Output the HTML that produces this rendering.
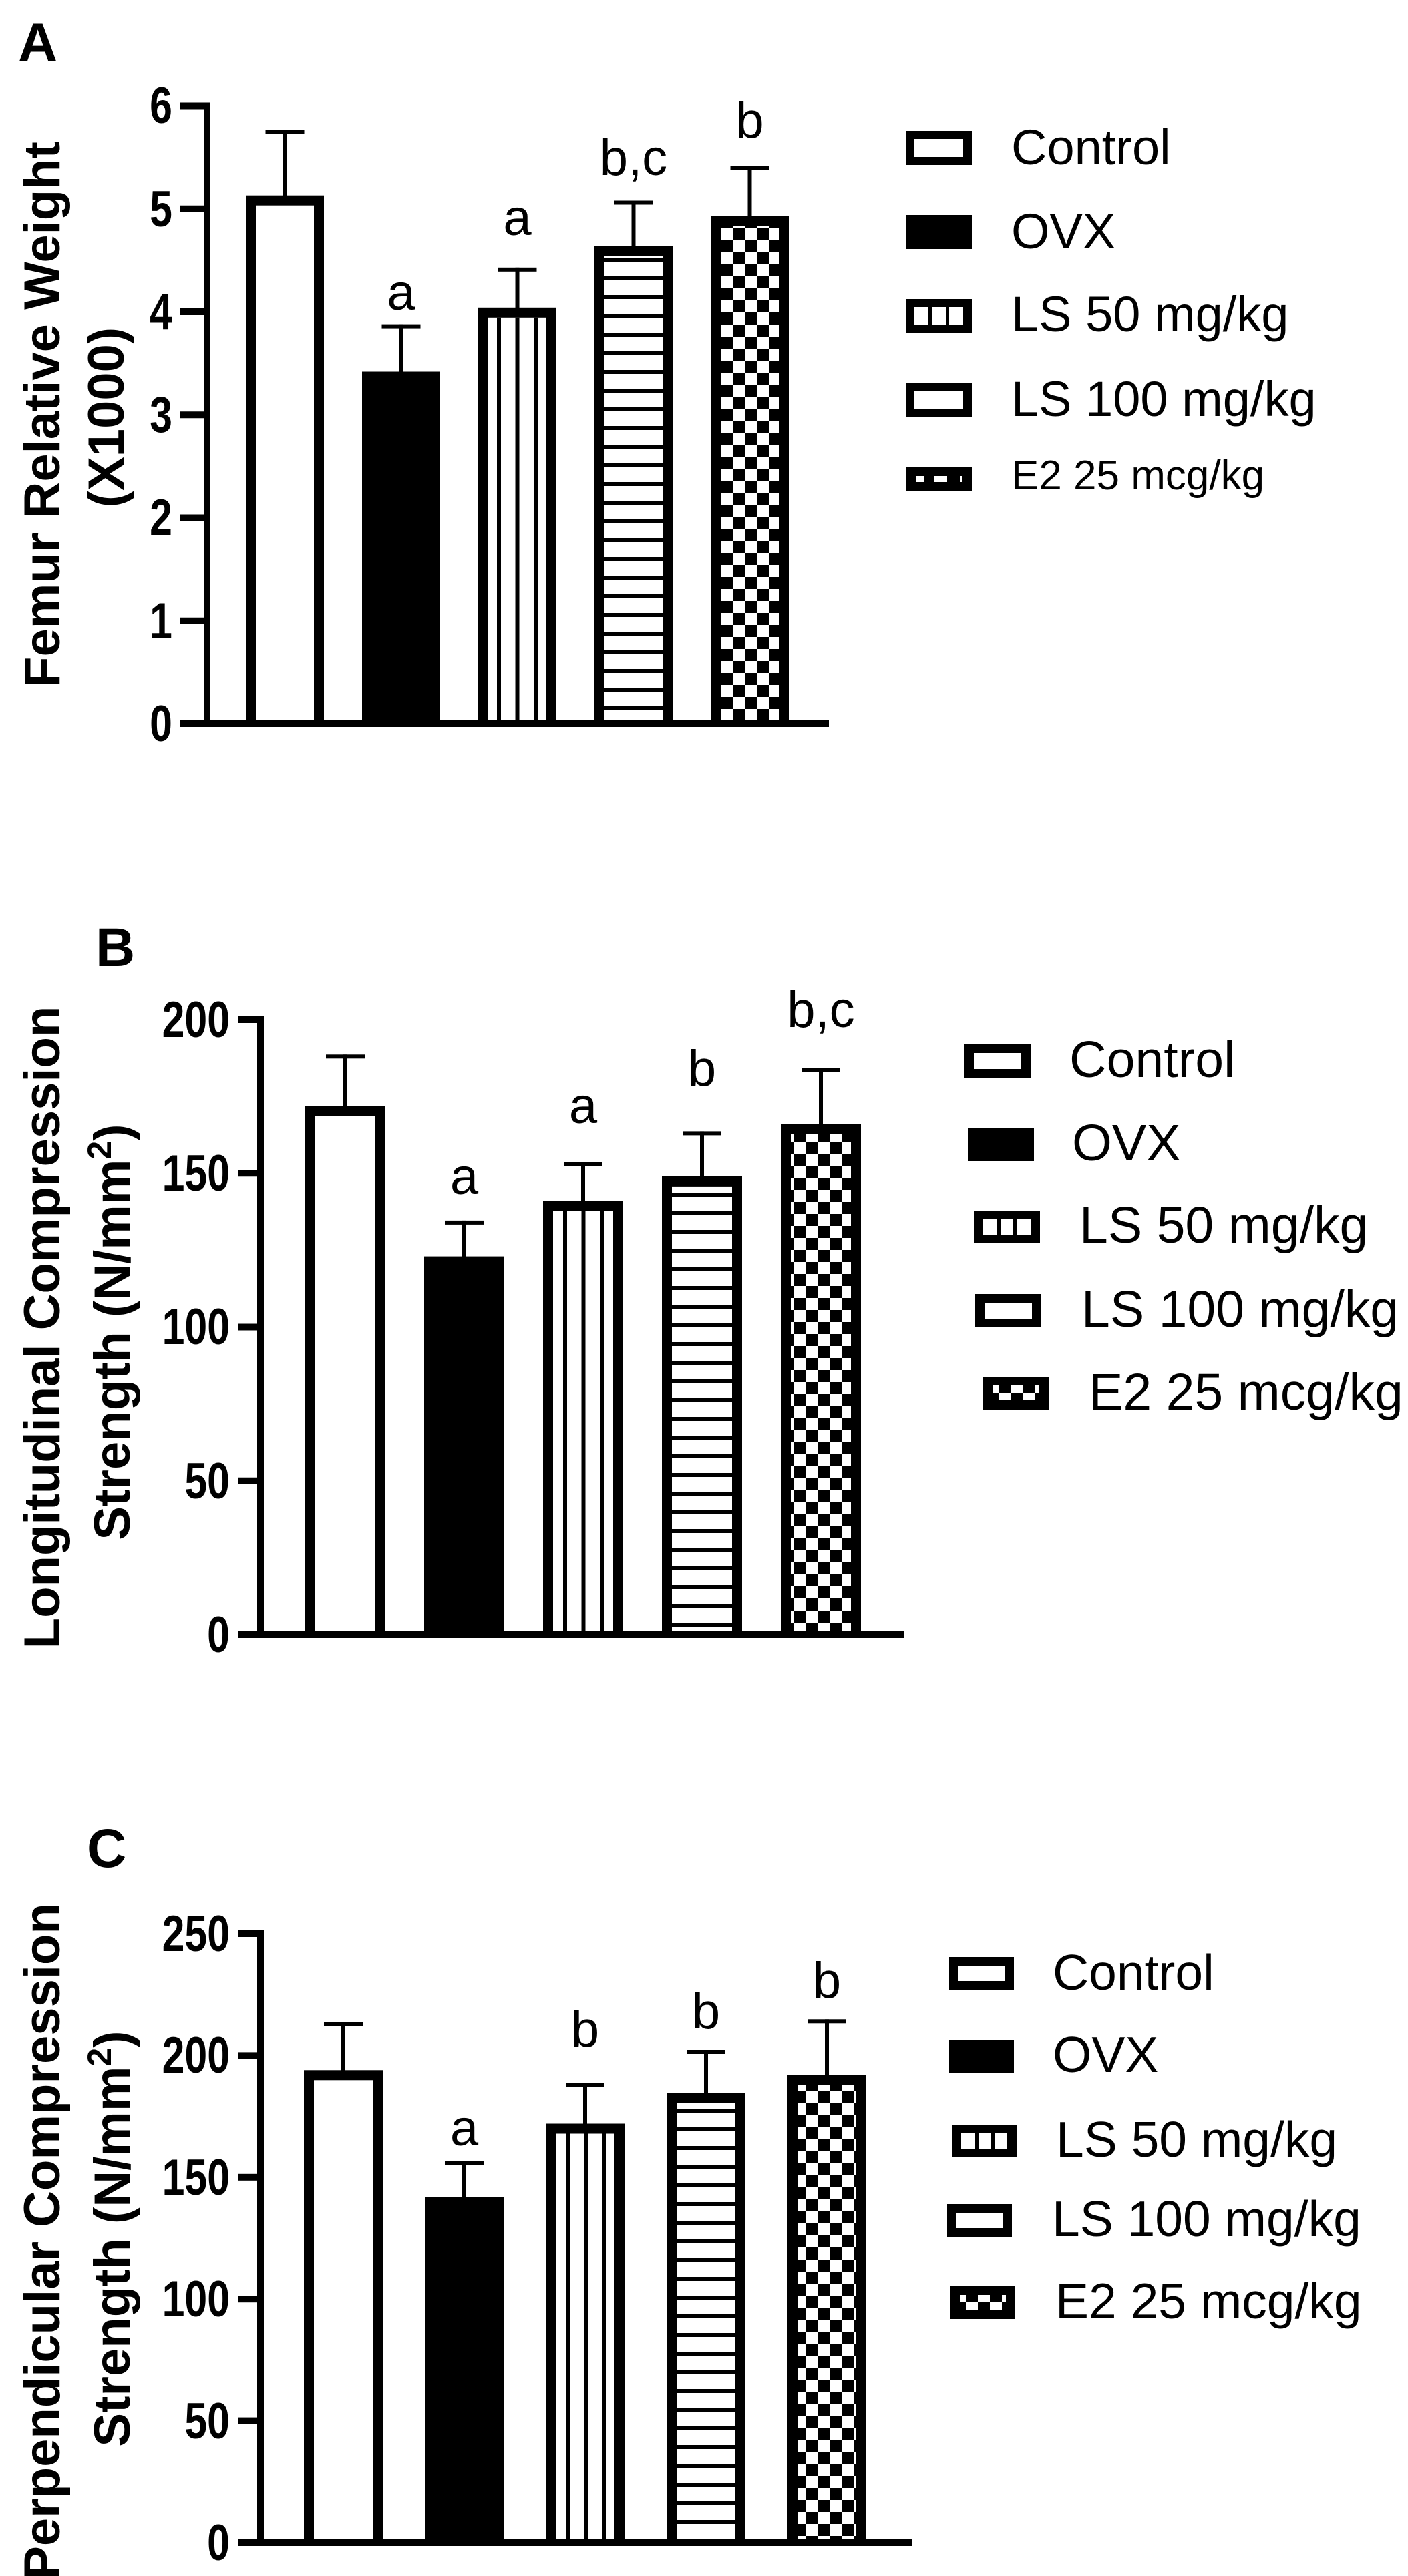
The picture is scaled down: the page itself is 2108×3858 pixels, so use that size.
<!DOCTYPE html>
<html><head><meta charset="utf-8"><style>
html,body{margin:0;padding:0;background:#fff;overflow:hidden;}
svg{display:block;}
text{font-family:"Liberation Sans",Arial,sans-serif;fill:#000;}
.b{font-weight:bold;}
</style></head><body>
<svg width="2108" height="3858" viewBox="0 0 2108 3858" xmlns="http://www.w3.org/2000/svg">
<defs>
<pattern id="vA" patternUnits="userSpaceOnUse" x="744" y="0" width="27.5" height="10"><rect x="0" y="0" width="6" height="10" fill="#000"/></pattern>
<pattern id="vB" patternUnits="userSpaceOnUse" x="843" y="0" width="27.5" height="10"><rect x="0" y="0" width="6" height="10" fill="#000"/></pattern>
<pattern id="vC" patternUnits="userSpaceOnUse" x="847" y="0" width="27.5" height="10"><rect x="0" y="0" width="6" height="10" fill="#000"/></pattern>
<pattern id="h" patternUnits="userSpaceOnUse" x="0" y="0" width="10" height="28"><rect x="0" y="22" width="10" height="6" fill="#000"/></pattern>
<pattern id="ck" patternUnits="userSpaceOnUse" x="0" y="0" width="36" height="36"><rect width="36" height="36" fill="#fff"/><rect x="0" y="0" width="18" height="18" fill="#000"/><rect x="18" y="18" width="18" height="18" fill="#000"/></pattern>
</defs>

<!-- ================= PANEL A ================= -->
<text class="b" x="27" y="92" font-size="82">A</text>
<text class="b" transform="translate(89,621) rotate(-90)" text-anchor="middle" font-size="76">Femur Relative Weight</text>
<text class="b" transform="translate(185,625) rotate(-90)" text-anchor="middle" font-size="76">(X1000)</text>
<rect x="305" y="153.5" width="10" height="935.5" fill="#000"/>
<rect x="270" y="1079" width="971" height="10" fill="#000"/>
<g fill="#000">
<rect x="270" y="153.5" width="40" height="10"/>
<rect x="270" y="307.75" width="40" height="10"/>
<rect x="270" y="462" width="40" height="10"/>
<rect x="270" y="616.25" width="40" height="10"/>
<rect x="270" y="770.5" width="40" height="10"/>
<rect x="270" y="924.75" width="40" height="10"/>
</g>
<g class="b" font-size="76" text-anchor="end">
<text transform="translate(258,1110) scale(0.8,1)">0</text>
<text transform="translate(258,956) scale(0.8,1)">1</text>
<text transform="translate(258,801) scale(0.8,1)">2</text>
<text transform="translate(258,647) scale(0.8,1)">3</text>
<text transform="translate(258,493) scale(0.8,1)">4</text>
<text transform="translate(258,339) scale(0.8,1)">5</text>
<text transform="translate(258,184) scale(0.8,1)">6</text>
</g>
<g fill="#000">
<rect x="423.5" y="194" width="6" height="100"/><rect x="397.5" y="194" width="58" height="6"/>
<rect x="597.5" y="485.6" width="6" height="72"/><rect x="571.5" y="485.6" width="58" height="6"/>
<rect x="771.5" y="400.8" width="6" height="62"/><rect x="745.5" y="400.8" width="58" height="6"/>
<rect x="945.5" y="300.5" width="6" height="70"/><rect x="919.5" y="300.5" width="58" height="6"/>
<rect x="1119.5" y="248" width="6" height="77"/><rect x="1093.5" y="248" width="58" height="6"/>
<rect x="368" y="292.7" width="117" height="791.3"/>
<rect x="542" y="556.5" width="117" height="527.5"/>
<rect x="716" y="460.8" width="117" height="623.2"/>
<rect x="890" y="368.3" width="117" height="715.7"/>
<rect x="1064" y="323.5" width="117" height="760.5"/>
</g>
<rect x="383" y="307.7" width="87" height="771.3" fill="#fff"/>
<rect x="731" y="475.8" width="87" height="603.2" fill="#fff"/>
<rect x="731" y="475.8" width="87" height="603.2" fill="url(#vA)"/>
<rect x="905" y="383.3" width="87" height="695.7" fill="#fff"/>
<rect x="905" y="383.3" width="87" height="695.7" fill="url(#h)"/>
<rect x="1079" y="338.5" width="87" height="740.5" fill="url(#ck)"/>
<g font-size="76" text-anchor="middle">
<text x="600.5" y="464">a</text>
<text x="774.5" y="352">a</text>
<text x="948.5" y="262">b,c</text>
<text x="1122.5" y="206">b</text>
</g>
<g fill="#000">
<rect x="1356" y="196" width="99" height="51"/>
<rect x="1356" y="322" width="99" height="51"/>
<rect x="1356" y="448" width="99" height="51"/>
<rect x="1356" y="573" width="99" height="51"/>
<rect x="1356" y="700" width="99" height="35"/>
</g>
<rect x="1369" y="208" width="73" height="27" fill="#fff"/>
<rect x="1369" y="460" width="73" height="27" fill="#fff"/>
<rect x="1390" y="460" width="5" height="27" fill="#000"/>
<rect x="1416" y="460" width="5" height="27" fill="#000"/>
<rect x="1369" y="585" width="73" height="27" fill="#fff"/>
<g fill="#fff"><rect x="1371" y="713" width="12" height="9"/><rect x="1399" y="713" width="19" height="9"/><rect x="1437" y="713" width="4" height="9"/></g>
<g font-size="74">
<text x="1514" y="246">Control</text>
<text x="1514" y="372">OVX</text>
<text x="1514" y="496">LS 50 mg/kg</text>
<text x="1514" y="623">LS 100 mg/kg</text>
<text x="1514" y="733" font-size="62">E2 25 mcg/kg</text>
</g>

<!-- ================= PANEL B ================= -->
<text class="b" x="143" y="1447" font-size="82">B</text>
<text class="b" transform="translate(89,1988) rotate(-90)" text-anchor="middle" font-size="76">Longitudinal Compression</text>
<text class="b" transform="translate(194,1995) rotate(-90)" text-anchor="middle" font-size="76">Strength (N/mm<tspan font-size="50" dy="-28">2</tspan><tspan dy="28">)</tspan></text>
<rect x="385" y="1522" width="10" height="931" fill="#000"/>
<rect x="357" y="2443" width="996" height="10" fill="#000"/>
<g fill="#000">
<rect x="357" y="1522" width="33" height="10"/>
<rect x="357" y="1752.25" width="33" height="10"/>
<rect x="357" y="1982.5" width="33" height="10"/>
<rect x="357" y="2212.75" width="33" height="10"/>
</g>
<g class="b" font-size="76" text-anchor="end">
<text transform="translate(344,2474) scale(0.8,1)">0</text>
<text transform="translate(344,2244) scale(0.8,1)">50</text>
<text transform="translate(344,2013) scale(0.8,1)">100</text>
<text transform="translate(344,1783) scale(0.8,1)">150</text>
<text transform="translate(344,1553) scale(0.8,1)">200</text>
</g>
<g fill="#000">
<rect x="514" y="1579.3" width="6" height="80"/><rect x="488" y="1579.3" width="58" height="6"/>
<rect x="692" y="1827.9" width="6" height="56"/><rect x="666" y="1827.9" width="58" height="6"/>
<rect x="870" y="1740.4" width="6" height="60"/><rect x="844" y="1740.4" width="58" height="6"/>
<rect x="1048" y="1694.4" width="6" height="70"/><rect x="1022" y="1694.4" width="58" height="6"/>
<rect x="1226" y="1600" width="6" height="86"/><rect x="1200" y="1600" width="58" height="6"/>
<rect x="457" y="1656" width="120" height="792"/>
<rect x="635" y="1881.6" width="120" height="566.4"/>
<rect x="813" y="1798.7" width="120" height="649.3"/>
<rect x="991" y="1761.9" width="120" height="686.1"/>
<rect x="1169" y="1683.6" width="120" height="764.4"/>
</g>
<rect x="472" y="1671" width="90" height="772" fill="#fff"/>
<rect x="828" y="1813.7" width="90" height="629.3" fill="#fff"/>
<rect x="828" y="1813.7" width="90" height="629.3" fill="url(#vB)"/>
<rect x="1006" y="1776.9" width="90" height="666.1" fill="#fff"/>
<rect x="1006" y="1776.9" width="90" height="666.1" fill="url(#h)"/>
<rect x="1184" y="1698.6" width="90" height="744.4" fill="url(#ck)"/>
<g font-size="76" text-anchor="middle">
<text x="695" y="1788">a</text>
<text x="873" y="1682">a</text>
<text x="1051" y="1626">b</text>
<text x="1229" y="1538">b,c</text>
</g>
<g fill="#000">
<rect x="1444" y="1564" width="99" height="50"/>
<rect x="1449" y="1689" width="99" height="50"/>
<rect x="1458" y="1813" width="99" height="49"/>
<rect x="1460" y="1938" width="99" height="50"/>
<rect x="1472" y="2062" width="99" height="49"/>
</g>
<rect x="1458" y="1577" width="71" height="24" fill="#fff"/>
<rect x="1472" y="1826" width="71" height="23" fill="#fff"/>
<rect x="1492" y="1826" width="6" height="23" fill="#000"/>
<rect x="1517" y="1826" width="6" height="23" fill="#000"/>
<rect x="1474" y="1951" width="71" height="24" fill="#fff"/>
<g fill="#fff"><rect x="1487" y="2075" width="9" height="11"/><rect x="1514" y="2075" width="18" height="11"/><rect x="1550" y="2075" width="6" height="11"/><rect x="1496" y="2086" width="18" height="11"/><rect x="1532" y="2086" width="18" height="11"/></g>
<g font-size="77">
<text x="1601" y="1613">Control</text>
<text x="1605" y="1738">OVX</text>
<text x="1616" y="1861">LS 50 mg/kg</text>
<text x="1619" y="1987">LS 100 mg/kg</text>
<text x="1630" y="2111">E2 25 mcg/kg</text>
</g>

<!-- ================= PANEL C ================= -->
<text class="b" x="130" y="2796" font-size="82">C</text>
<text class="b" transform="translate(89,3357) rotate(-90)" text-anchor="middle" font-size="76">Perpendicular Compression</text>
<text class="b" transform="translate(194,3353) rotate(-90)" text-anchor="middle" font-size="76">Strength (N/mm<tspan font-size="50" dy="-28">2</tspan><tspan dy="28">)</tspan></text>
<rect x="385" y="2891" width="10" height="922" fill="#000"/>
<rect x="357" y="3803" width="1009" height="10" fill="#000"/>
<g fill="#000">
<rect x="357" y="2891" width="33" height="10"/>
<rect x="357" y="3073.4" width="33" height="10"/>
<rect x="357" y="3255.8" width="33" height="10"/>
<rect x="357" y="3438.2" width="33" height="10"/>
<rect x="357" y="3620.6" width="33" height="10"/>
</g>
<g class="b" font-size="76" text-anchor="end">
<text transform="translate(344,3834) scale(0.8,1)">0</text>
<text transform="translate(344,3652) scale(0.8,1)">50</text>
<text transform="translate(344,3469) scale(0.8,1)">100</text>
<text transform="translate(344,3287) scale(0.8,1)">150</text>
<text transform="translate(344,3104) scale(0.8,1)">200</text>
<text transform="translate(344,2922) scale(0.8,1)">250</text>
</g>
<g fill="#000">
<rect x="511" y="3028" width="6" height="75"/><rect x="485" y="3028" width="58" height="6"/>
<rect x="692" y="3236" width="6" height="56"/><rect x="666" y="3236" width="58" height="6"/>
<rect x="873" y="3119" width="6" height="64"/><rect x="847" y="3119" width="58" height="6"/>
<rect x="1054" y="3070" width="6" height="67"/><rect x="1028" y="3070" width="58" height="6"/>
<rect x="1235" y="3024.3" width="6" height="86"/><rect x="1209" y="3024.3" width="58" height="6"/>
<rect x="455" y="3100.3" width="118" height="707.7"/>
<rect x="636" y="3290" width="118" height="518"/>
<rect x="817" y="3180.5" width="118" height="627.5"/>
<rect x="998" y="3134.9" width="118" height="673.1"/>
<rect x="1179" y="3107.6" width="118" height="700.4"/>
</g>
<rect x="470" y="3115.3" width="88" height="687.7" fill="#fff"/>
<rect x="832" y="3195.5" width="88" height="607.5" fill="#fff"/>
<rect x="832" y="3195.5" width="88" height="607.5" fill="url(#vC)"/>
<rect x="1013" y="3149.9" width="88" height="653.1" fill="#fff"/>
<rect x="1013" y="3149.9" width="88" height="653.1" fill="url(#h)"/>
<rect x="1194" y="3122.6" width="88" height="680.4" fill="url(#ck)"/>
<g font-size="76" text-anchor="middle">
<text x="695" y="3213">a</text>
<text x="876" y="3065">b</text>
<text x="1057" y="3038">b</text>
<text x="1238" y="2992">b</text>
</g>
<g fill="#000">
<rect x="1421" y="2931" width="97" height="49"/>
<rect x="1421" y="3055" width="97" height="49"/>
<rect x="1425" y="3182" width="97" height="49"/>
<rect x="1418" y="3301" width="97" height="49"/>
<rect x="1423" y="3424" width="97" height="49"/>
</g>
<rect x="1435" y="2944" width="69" height="23" fill="#fff"/>
<rect x="1439" y="3195" width="69" height="23" fill="#fff"/>
<rect x="1459" y="3195" width="6" height="23" fill="#000"/>
<rect x="1483" y="3195" width="6" height="23" fill="#000"/>
<rect x="1432" y="3314" width="69" height="23" fill="#fff"/>
<g fill="#fff"><rect x="1437" y="3437" width="9" height="11"/><rect x="1464" y="3437" width="18" height="11"/><rect x="1500" y="3437" width="6" height="11"/><rect x="1446" y="3448" width="18" height="11"/><rect x="1482" y="3448" width="18" height="11"/></g>
<g font-size="75">
<text x="1576" y="2980">Control</text>
<text x="1576" y="3103">OVX</text>
<text x="1581" y="3230">LS 50 mg/kg</text>
<text x="1575" y="3349">LS 100 mg/kg</text>
<text x="1580" y="3472">E2 25 mcg/kg</text>
</g>
</svg>
</body></html>
